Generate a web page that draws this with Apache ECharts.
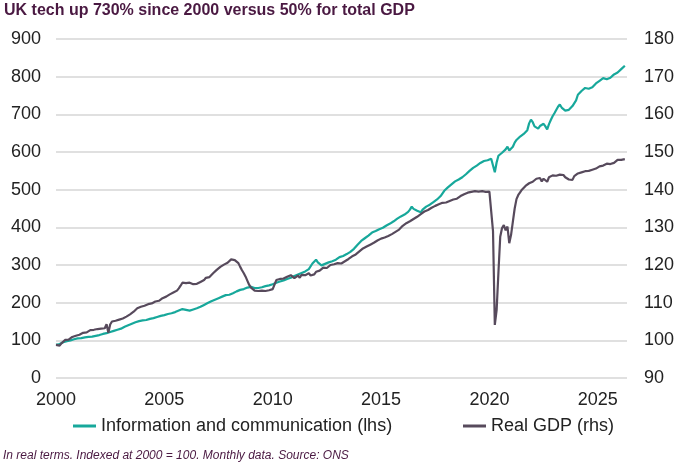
<!DOCTYPE html>
<html>
<head>
<meta charset="utf-8">
<script src="https://cdn.jsdelivr.net/npm/echarts@6/dist/echarts.min.js"></script>
<style>
html,body{margin:0;padding:0;background:#fff;}
#chart{width:680px;height:466px;}
</style>
</head>
<body>
<div id="chart"></div>
<script>
// Monthly data, Jan 2000 onwards
const startYear = 2000;
const xTicks = [2000, 2005, 2010, 2015, 2020, 2025];

// Information and communication (lhs), index 2000 = 100
const infoComm = [
  88, 91, 90, 94, 95, 97, 98, 101, 100, 104, 103, 106,
  105, 108, 106, 107, 108, 106, 109, 107, 110, 109, 112, 111,
  114, 114, 117, 116, 119, 118, 122, 122, 125, 125, 128, 128,
  131, 132, 136, 136, 140, 140, 144, 144, 148, 147, 151, 150,
  153, 151, 154, 153, 157, 156, 159, 159, 162, 161, 165, 164,
  167, 166, 170, 169, 172, 172, 175, 175, 179, 179, 183, 180,
  181, 178, 179, 178, 182, 181, 185, 185, 189, 189, 194, 195,
  199, 199, 204, 204, 208, 208, 212, 212, 216, 216, 220, 219,
  221, 221, 225, 226, 230, 230, 234, 233, 236, 236, 240, 240,
  242, 239, 239, 236, 239, 238, 241, 241, 244, 243, 246, 246,
  249, 249, 253, 252, 256, 255, 259, 259, 263, 262, 266, 266,
  271, 271, 275, 275, 279, 279, 283, 283, 289, 294, 304, 309,
  314, 307, 303, 299, 303, 303, 307, 307, 310, 310, 314, 314,
  316, 321, 318, 324, 322, 329, 327, 335, 333, 343, 346, 354,
  356, 364, 361, 371, 368, 378, 376, 386, 383, 390, 387, 395,
  393, 399, 396, 405, 402, 410, 407, 416, 413, 423, 420, 429,
  426, 434, 431, 441, 447, 455, 449, 452, 444, 446, 440, 447,
  448, 455, 452, 460, 458, 467, 464, 474, 476, 483, 487, 497,
  498, 506, 503, 514, 512, 522, 519, 527, 524, 533, 530, 541,
  541, 550, 547, 558, 554, 564, 560, 571, 567, 576, 572, 578,
  575, 582, 580, 546, 572, 590, 588, 598, 596, 607, 614, 604,
  601, 614, 625, 632, 629, 641, 637, 648, 645, 658, 676, 686,
  679, 668, 667, 662, 669, 666, 675, 668, 660, 674, 685, 695,
  703, 708, 720, 726, 718, 717, 710, 708, 712, 714, 722, 720,
  737, 752, 753, 762, 760, 770, 766, 768, 763, 772, 777, 782,
  781, 789, 786, 796, 791, 793, 790, 797, 798, 806, 803, 811,
  813, 820, 822, 829
];

// Real GDP (rhs), index 2000 = 100
const realGdp = [
  98.8, 98.3, 98.6, 99.2, 99.6, 100.1, 100.5, 100.2, 100.6, 100.9, 100.8, 101.2,
  101.3, 101.5, 101.8, 102.0, 101.7, 102.1, 102.5, 102.7, 102.4, 102.8, 102.9, 103.0,
  102.8, 103.1, 103.0, 103.2, 104.3, 102.0, 104.2, 105.0, 104.8, 105.2, 105.4, 105.5,
  105.6, 105.8, 106.0, 106.3, 106.6, 106.9, 107.2, 107.6, 108.0, 108.5, 108.7, 108.9,
  109.0, 109.2, 109.4, 109.6, 109.5, 109.8, 110.0, 110.3, 110.1, 110.5, 110.8, 111.2,
  111.4, 111.6, 111.9, 112.2, 112.4, 112.7, 112.9, 113.2, 113.8, 114.5, 115.3, 115.1,
  115.2, 115.0, 115.3, 115.1, 114.9, 115.2, 115.0, 115.3, 115.5, 115.2, 116.0, 116.6,
  117.0, 116.8, 117.3, 117.8, 118.3, 118.7, 119.0, 119.5, 119.8, 120.1, 120.4, 120.6,
  120.9, 121.5, 121.1, 121.3, 120.9, 120.5, 119.5, 118.6, 117.8, 116.9, 115.8, 114.7,
  114.0, 113.5, 113.2, 112.9, 113.1, 113.0, 113.2, 113.4, 113.1, 113.5, 113.3, 113.5,
  113.6, 114.8, 116.0, 116.1, 116.3, 116.5, 116.4, 116.7, 116.9, 117.0, 117.3, 116.8,
  116.5, 116.9, 117.2, 116.6, 117.4, 117.6, 117.3, 117.5, 117.8, 117.2, 116.9, 117.5,
  118.2, 118.7, 118.5, 118.9, 119.3, 119.5, 119.2, 119.6, 120.0, 119.8, 120.2, 120.3,
  120.5, 120.6, 120.4, 120.8, 121.0, 121.3, 121.6, 121.9, 122.3, 122.6, 122.8, 123.2,
  123.6, 124.1, 124.4, 124.6, 124.9, 125.1, 125.4, 125.8, 125.9, 126.2, 126.5, 126.8,
  127.0, 127.1, 127.3, 127.5, 127.7, 127.9, 128.2, 128.4, 128.8, 129.0, 129.4, 129.9,
  130.4, 130.8, 131.1, 131.4, 131.6, 131.9, 132.2, 132.5, 132.8, 133.1, 133.5, 133.9,
  134.2, 134.5, 134.6, 134.8, 135.2, 135.5, 135.7, 135.9, 136.1, 136.3, 136.5, 136.8,
  136.6, 136.8, 137.0, 137.2, 137.4, 137.3, 137.6, 137.9, 138.3, 138.6, 138.8, 138.7,
  139.2, 139.0, 139.4, 139.1, 139.6, 139.7, 139.5, 139.8, 139.6, 139.7, 139.4, 139.6,
  139.5, 139.6, 129.0, 104.1, 108.0, 118.0, 127.5, 129.8, 130.6, 129.2, 130.2, 125.8,
  128.0, 131.5, 135.0, 137.5, 138.6, 139.3, 140.0, 140.4, 141.0, 141.4, 141.7, 142.0,
  142.1, 142.6, 142.9, 142.8, 143.1, 142.2, 142.9, 142.6, 142.1, 143.3, 143.4, 143.8,
  143.5, 143.7, 143.4, 144.0, 143.6, 143.9, 143.3, 143.4, 142.7, 142.9, 142.6, 143.6,
  144.0, 144.3, 144.2, 144.6, 144.5, 144.9, 144.7, 145.0, 144.8, 145.3, 145.2, 145.6,
  145.7, 146.2, 146.1, 146.4, 146.3, 146.9, 146.5, 146.8, 146.7, 147.1, 147.0, 147.9,
  147.8, 147.9, 148.2, 148.1
];

const leftTicks = [0, 100, 200, 300, 400, 500, 600, 700, 800, 900];
const rightTicks = [90, 100, 110, 120, 130, 140, 150, 160, 170, 180];

// Month positions as decimal years
const months = infoComm.map((_, i) => startYear + i / 12);

const FONT = '"Liberation Sans", Arial, sans-serif';
const TEAL = '#17a89b';
const PURPLE = '#574a5c';
const TITLE = '#4a1942';

const chart = echarts.init(document.getElementById('chart'), null, {renderer: 'canvas'});
chart.setOption({
  animation: false,
  backgroundColor: '#fff',
  title: {
    text: 'UK tech up 730% since 2000 versus 50% for total GDP',
    left: 4, top: 3, padding: 0,
    textStyle: {fontFamily: FONT, fontSize: 16, fontWeight: 'bold', color: TITLE}
  },
  legend: [
    {
      data: ['Information and communication (lhs)'],
      left: 73, top: 417, padding: 0,
      icon: 'rect', itemWidth: 23, itemHeight: 3,
      textStyle: {fontFamily: FONT, fontSize: 18, color: '#222'}
    },
    {
      data: ['Real GDP (rhs)'],
      left: 463, top: 417, padding: 0,
      icon: 'rect', itemWidth: 23, itemHeight: 3,
      textStyle: {fontFamily: FONT, fontSize: 18, color: '#222'}
    }
  ],
  graphic: [{
    type: 'text', left: 3, top: 450,
    style: {
      text: 'In real terms. Indexed at 2000 = 100. Monthly data. Source: ONS',
      font: 'italic 12px ' + FONT, fill: TITLE
    }
  }],
  grid: {left: 56, right: 53, top: 39, bottom: 88, containLabel: false},
  xAxis: {
    type: 'value', min: xTicks[0], max: 2026.35, interval: 5,
    axisLine: {show: false}, axisTick: {show: false}, splitLine: {show: false},
    axisLabel: {
      margin: 13, fontFamily: FONT, fontSize: 18, color: '#222',
      showMaxLabel: false,
      formatter: v => xTicks.includes(Math.round(v * 100) / 100) ? String(v) : ''
    }
  },
  yAxis: [
    {
      type: 'value', min: leftTicks[0], max: leftTicks[leftTicks.length - 1], interval: 100,
      axisLine: {show: false}, axisTick: {show: false},
      splitLine: {show: true, lineStyle: {color: '#d6d6d6', width: 1.5}},
      axisLabel: {margin: 15, fontFamily: FONT, fontSize: 18, color: '#222'}
    },
    {
      type: 'value', min: rightTicks[0], max: rightTicks[rightTicks.length - 1], interval: 10,
      axisLine: {show: false}, axisTick: {show: false}, splitLine: {show: false},
      axisLabel: {margin: 17, fontFamily: FONT, fontSize: 18, color: '#222'}
    }
  ],
  series: [
    {
      name: 'Information and communication (lhs)', type: 'line', yAxisIndex: 0,
      data: months.map((x, i) => [x, infoComm[i]]),
      showSymbol: false, symbol: 'none',
      lineStyle: {color: TEAL, width: 2.2}, itemStyle: {color: TEAL}
    },
    {
      name: 'Real GDP (rhs)', type: 'line', yAxisIndex: 1,
      data: months.slice(0, realGdp.length).map((x, i) => [x, realGdp[i]]),
      showSymbol: false, symbol: 'none',
      lineStyle: {color: PURPLE, width: 2.2}, itemStyle: {color: PURPLE}
    }
  ]
});
</script>
</body>
</html>
